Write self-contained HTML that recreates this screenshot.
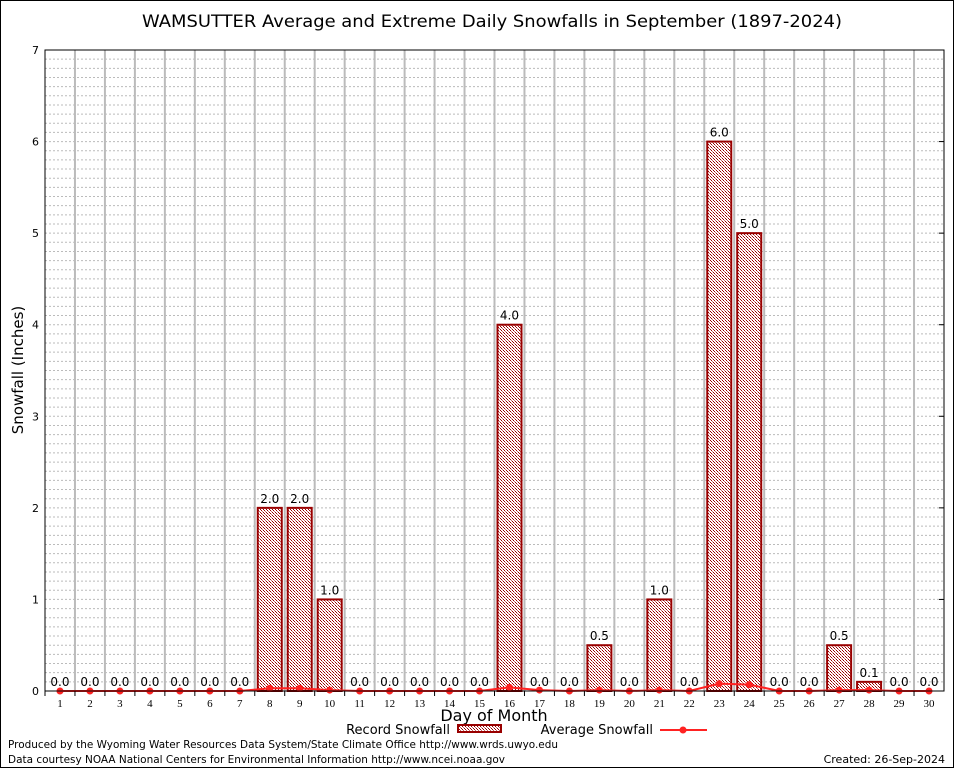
<!DOCTYPE html>
<html><head><meta charset="utf-8"><style>
body{margin:0;background:#fff;}
svg{display:block;font-family:"DejaVu Sans","Liberation Sans",sans-serif;}
</style></head><body>
<svg id="chart" width="954" height="768">
<defs><pattern id="chk" width="3" height="3" patternUnits="userSpaceOnUse"><rect width="3" height="3" fill="#fff"/><rect width="1" height="1" fill="#900"/><rect x="1" y="1" width="1" height="1" fill="#c66"/><rect x="2" y="2" width="1" height="1" fill="#900"/></pattern></defs>
<rect x="0.5" y="0.5" width="953" height="767" fill="#fff" stroke="#000"/>
<text x="492" y="27" text-anchor="middle" font-size="17" textLength="700" lengthAdjust="spacingAndGlyphs">WAMSUTTER Average and Extreme Daily Snowfalls in September (1897-2024)</text>
<g id="grid"></g><g id="bars"></g><g id="avg"></g>
<rect x="45" y="50" width="899" height="641" fill="none" stroke="#000"/>
<g id="axes"></g>
<text x="23" y="370" transform="rotate(-90 23 370)" text-anchor="middle" font-size="15">Snowfall (Inches)</text>
<text x="494" y="721" text-anchor="middle" font-size="16">Day of Month</text>
<g><text x="450" y="734" text-anchor="end" font-size="13">Record Snowfall</text><rect x="458" y="725" width="43" height="7" fill="url(#chk)" stroke="#900" stroke-width="2"/></g>
<g><text x="653" y="734" text-anchor="end" font-size="13">Average Snowfall</text><line x1="660" y1="730" x2="707" y2="730" stroke="#f22" stroke-width="2"/><circle cx="683" cy="730" r="3.5" fill="#f22"/></g>
<text x="8" y="748" font-size="11" textLength="550" lengthAdjust="spacingAndGlyphs">Produced by the Wyoming Water Resources Data System/State Climate Office http://www.wrds.uwyo.edu</text>
<text x="8" y="763" font-size="11" textLength="497" lengthAdjust="spacingAndGlyphs">Data courtesy NOAA National Centers for Environmental Information http://www.ncei.noaa.gov</text>
<text x="945" y="763" text-anchor="end" font-size="11">Created: 26-Sep-2024</text>
</svg>
<script>
const days=[1,2,3,4,5,6,7,8,9,10,11,12,13,14,15,16,17,18,19,20,21,22,23,24,25,26,27,28,29,30];
const recordVals=[0,0,0,0,0,0,0,2,2,1,0,0,0,0,0,4,0,0,0.5,0,1,0,6,5,0,0,0.5,0.1,0,0];
const avgVals=[0,0,0,0,0,0,0,0.03,0.03,0.01,0,0,0,0,0,0.04,0.01,0,0.01,0,0.01,0,0.08,0.07,0,0,0.01,0.01,0,0];
const yTicks=[0,1,2,3,4,5,6,7];
const NS='http://www.w3.org/2000/svg';
const L=45,R=944,T=50,B=691,yMax=7;
const step=(R-L)/days.length;
const xc=d=>L+(d-0.5)*step;
const y=v=>B-v/yMax*(B-T);
function mk(tag,at,parent){const e=document.createElementNS(NS,tag);for(const k in at)e.setAttribute(k,at[k]);document.getElementById(parent).appendChild(e);return e;}
for(let v=0.1;v<yMax-0.01;v+=0.1){const l=mk('line',{x1:L,x2:R,y1:y(v),y2:y(v),stroke:'#bbb','stroke-dasharray':'2,2'},'grid');

}
for(let i=1;i<days.length;i++){const l=mk('line',{x1:L+i*step,x2:L+i*step,y1:T,y2:B,stroke:'#bbb','stroke-width':2},'grid');

}
yTicks.forEach(v=>{const t=mk('text',{x:L-6,y:y(v)+4,'text-anchor':'end','font-size':11},'axes');t.textContent=v;


mk('line',{x1:R-5,x2:R,y1:y(v),y2:y(v),stroke:'#000'},'axes');});
days.forEach((d,i)=>{const t=mk('text',{x:xc(d),y:B+16,'text-anchor':'middle','font-size':11,'font-family':'Liberation Serif,serif'},'axes');t.textContent=d;


mk('line',{x1:L+i*step,x2:L+i*step,y1:B,y2:B+5,stroke:'#000'},'axes');
const v=recordVals[i];
if(v>0){const r=mk('rect',{x:xc(d)-12,y:y(v),width:24,height:B-y(v),fill:'url(#chk)',stroke:'#900','stroke-width':2},'bars');

}
const lb=mk('text',{x:xc(d),y:y(v)-5,'text-anchor':'middle','font-size':12},'bars');lb.textContent=v.toFixed(1);

});
const pl=mk('polyline',{points:days.map((d,i)=>xc(d)+','+y(avgVals[i])).join(' '),fill:'none',stroke:'#f22','stroke-width':2},'avg');


days.forEach((d,i)=>{const c=mk('circle',{cx:xc(d),cy:y(avgVals[i]),r:3.5,fill:'#f22'},'avg');

});
</script>
</body></html>
